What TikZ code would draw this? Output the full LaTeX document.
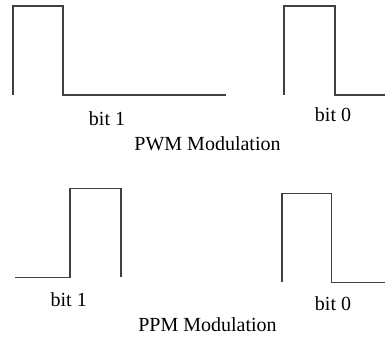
\documentclass[tikz,border=0pt]{standalone}
\usepackage{fontspec}
\setmainfont{Liberation Serif}
\usetikzlibrary{positioning}
\tikzstyle{wave} = [draw=black!75, line width=0.8pt]
\tikzstyle{label} = [anchor=base, inner sep=0pt, font=\fontsize{15}{18}\selectfont]

\begin{document}
\begin{tikzpicture}[x=0.75pt, y=-0.75pt]
	\useasboundingbox (0,0) rectangle (385,336);
	% PWM
	\draw [wave] (13,95) -- (13,6) -- (63,6) -- (63,95) -- (226,95);
	\draw [wave] (284,95) -- (284,6) -- (335,6) -- (335,95) -- (385,95);
	\node (PwmOne) [label] at (107,125.5) {bit 1};
	\node (PwmZero) [label] at (333,121.5) {bit 0};
	\node (PwmTitle) [label] at (207.5,150) {PWM Modulation};
	% PPM
	\draw [wave] (15,277.3) -- (70,277.3) -- (70,188.3) -- (121,188.3) -- (121,277);
	\draw [wave] (282,282.3) -- (282,193.7) -- (331.7,193.7) -- (331.7,282.3) -- (385,282.3);
	\node (PpmOne) [label] at (68.7,306.5) {bit 1};
	\node (PpmZero) [label] at (333,310) {bit 0};
	\node (PpmTitle) [label] at (207.5,331) {PPM Modulation};
\end{tikzpicture}
\end{document}
